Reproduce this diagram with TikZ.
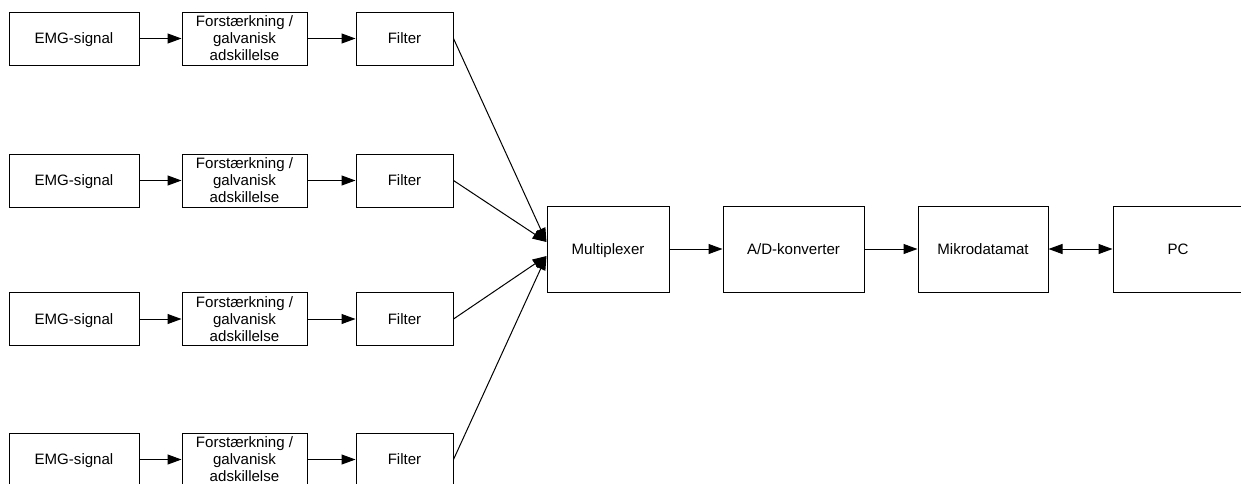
\documentclass[tikz,border=0pt]{standalone}
\usepackage{fontspec}
\setmainfont{Liberation Sans}
\usetikzlibrary{arrows.meta}
\begin{document}
\begin{tikzpicture}[x=0.75pt,y=-0.75pt,
  box/.style={draw,line width=0.75pt,inner sep=0pt,align=center,
    font=\fontsize{11.3}{12.8}\selectfont},
  one/.style={box,text height=8.1pt,text depth=0pt},
  emg/.style={one,minimum width=97.5pt,minimum height=39.75pt},
  amp/.style={box,minimum width=93.75pt,minimum height=39.75pt},
  filt/.style={one,minimum width=72.75pt,minimum height=39.75pt},
  big/.style={one,minimum height=64.5pt},
  arr/.style={line width=0.75pt,-{Triangle[length=10.5pt,width=7.5pt]}},
  darr/.style={line width=0.75pt,{Triangle[length=10.5pt,width=7.5pt]}-{Triangle[length=10.5pt,width=7.5pt]}}
]
\useasboundingbox (0,0) rectangle (1241,483);
\clip (0,0) rectangle (1241,483);

% rows
\node[emg] (e1) at (74,38.5) {EMG-signal};
\node[amp] (a1) at (244.5,38.5) {Forstærkning /\\galvanisk\\adskillelse};
\node[filt] (f1) at (404.5,38.5) {Filter};

\node[emg] (e2) at (74,180.5) {EMG-signal};
\node[amp] (a2) at (244.5,180.5) {Forstærkning /\\galvanisk\\adskillelse};
\node[filt] (f2) at (404.5,180.5) {Filter};

\node[emg] (e3) at (74,319) {EMG-signal};
\node[amp] (a3) at (244.5,319) {Forstærkning /\\galvanisk\\adskillelse};
\node[filt] (f3) at (404.5,319) {Filter};

\node[emg] (e4) at (74,459.5) {EMG-signal};
\node[amp] (a4) at (244.5,459.5) {Forstærkning /\\galvanisk\\adskillelse};
\node[filt] (f4) at (404.5,459.5) {Filter};

% main chain
\node[big,minimum width=91.5pt] (mux) at (608,249) {Multiplexer};
\node[big,minimum width=105.75pt] (ad) at (793.5,249) {A/D-konverter};
\node[big,minimum width=97.5pt] (mik) at (983,249) {Mikrodatamat};
\node[big,minimum width=97.5pt] (pc) at (1178,249) {PC};

\foreach \i in {1,2,3,4}{
  \draw[arr] (e\i) -- (a\i);
  \draw[arr] (a\i) -- (f\i);
}
\draw[arr] (f1.east) -- ([yshift=5.25pt]mux.west);
\draw[arr] (f2.east) -- ([yshift=5.25pt]mux.west);
\draw[arr] (f3.east) -- ([yshift=-5.25pt]mux.west);
\draw[arr] (f4.east) -- ([yshift=-5.25pt]mux.west);

\draw[arr] (mux) -- (ad);
\draw[arr] (ad) -- (mik);
\draw[darr] (mik) -- (pc);
\end{tikzpicture}
\end{document}
